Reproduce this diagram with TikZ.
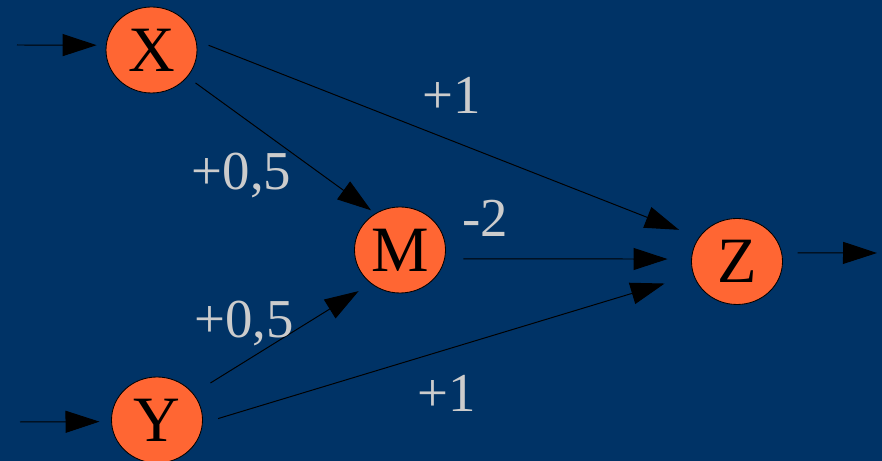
\documentclass[tikz,border=0pt]{standalone}
\usepackage{fontspec}
\setmainfont{Liberation Serif}
\usepackage{xcolor}
\usepackage{tikz}
\usetikzlibrary{arrows.meta,shapes.geometric}
\definecolor{slidebg}{RGB}{0,51,102}
\definecolor{neuronfill}{RGB}{255,102,51}
\definecolor{weightgray}{RGB}{204,204,204}
\tikzset{
  neuron/.style = {ellipse, draw=black, line width=0.6pt, fill=neuronfill,
                   minimum width=2.275cm, minimum height=2.15cm, inner sep=0pt,
                   font=\fontsize{46}{46}\selectfont},
  weight/.style = {text=weightgray, anchor=base, inner sep=0pt,
                   font=\fontsize{39}{39}\selectfont},
  syn/.style    = {-{Triangle[length=8.5mm,width=5.5mm]}, line width=0.7pt, black},
}

\begin{document}
\begin{tikzpicture}
  \fill[slidebg] (0,0) rectangle (22.05,11.525);
  \useasboundingbox (0,0) rectangle (22.05,11.525);
  \node[neuron] (X) at (3.7875, 10.275) {X};
  \node[neuron] (Y) at (3.925, 1.025) {Y};
  \node[neuron] (M) at (10, 5.275) {M};
  \node[neuron] (Z) at (18.425, 4.9875) {Z};
  \coordinate (xin) at (0.425, 10.4);
  \coordinate (yin) at (0.5, 0.975);
  \coordinate (zout) at (21.925, 5.2);
  \draw[syn, shorten >=2.3mm] (xin) to (X.174);
  \draw[syn, shorten >=2.9mm] (yin) to (Y.182);
  \draw[syn, shorten <=3.3mm, shorten >=5.3mm] (X.12) to (Z.148);
  \draw[syn, shorten <=2.5mm, shorten >=1.3mm] (X.-37) to (M.124);
  \draw[syn, shorten <=4.6mm, shorten >=5.9mm] (M.-11) to (Z.177);
  \draw[syn, shorten <=5mm, shorten >=3.6mm] (Y.36) to (M.229);
  \draw[syn, shorten <=4mm, shorten >=7.5mm] (Y.-4) to (Z.197);
  \draw[syn, shorten <=3.9mm] (Z.11) to (zout);
  \node[weight] (wxz) at (11.3, 8.675) {+1};
  \node[weight] (wxm) at (6.0375, 6.775) {+0,5};
  \node[weight] (wmz) at (12.125, 5.6) {-2};
  \node[weight] (wym) at (6.1, 3.075) {+0,5};
  \node[weight] (wyz) at (11.1625, 1.225) {+1};
\end{tikzpicture}
\end{document}
